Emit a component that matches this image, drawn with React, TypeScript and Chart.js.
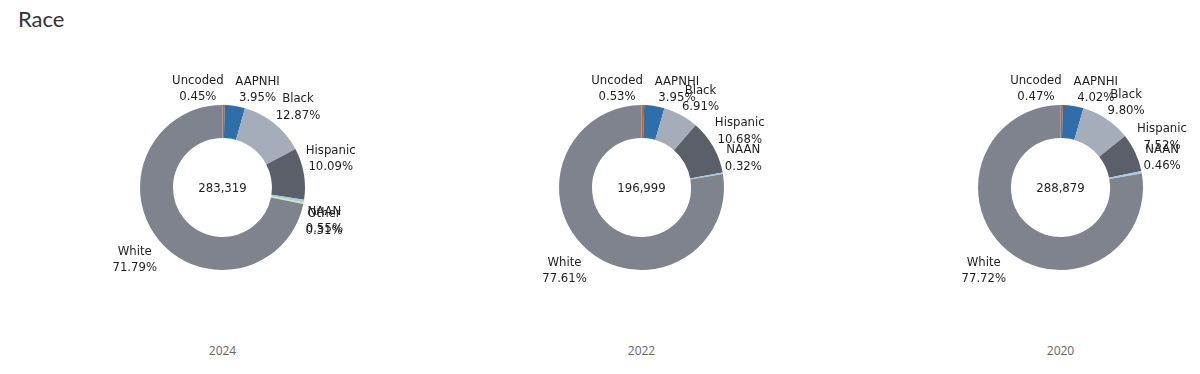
import React, { useEffect, useRef } from 'react';
import { Chart, registerables } from 'chart.js';

Chart.register(...registerables);

const chartTitle = 'Race';
const years = ['2024', '2022', '2020'];
const categories = ['Uncoded', 'AAPNHI', 'Black', 'Hispanic', 'NAAN', 'Other', 'White'];
const pct2024 = [0.45, 3.95, 12.87, 10.09, 0.55, 0.31, 71.79];
const pct2022 = [0.53, 3.95, 6.91, 10.68, 0.32, 0, 77.61];
const pct2020 = [0.47, 4.02, 9.8, 7.52, 0.46, 0, 77.72];
const totals = [283319, 196999, 288879];
const sliceColors = ['#c4622d', '#2f6ea8', '#a6adba', '#5a5f6a', '#a9cbe9', '#d7e8a1', '#7e838e'];

const seriesByYear = [pct2024, pct2022, pct2020];

const LABEL_FONT = '13px "DejaVu Sans Condensed", "DejaVu Sans", sans-serif';
const LINE_H = 16.5;

const outLabels = {
  id: 'outLabels',
  afterDatasetsDraw(chart: any) {
    const ctx = chart.ctx;
    const meta = chart.getDatasetMeta(0);
    const values = chart.data.datasets[0].data as number[];
    const labels = chart.data.labels as string[];
    ctx.save();
    ctx.font = LABEL_FONT;
    ctx.fillStyle = '#1e1e1e';
    ctx.textAlign = 'center';
    ctx.textBaseline = 'middle';
    meta.data.forEach((arc: any, i: number) => {
      const v = values[i];
      if (!v) return;
      const p = arc.getProps(['x', 'y', 'startAngle', 'endAngle', 'outerRadius'], true);
      const mid = (p.startAngle + p.endAngle) / 2;
      const vx = Math.cos(mid);
      const vy = Math.sin(mid);
      const r = p.outerRadius + 2;
      const ax = p.x + vx * r;
      const ay = p.y + vy * r;
      const l1 = labels[i];
      const l2 = v.toFixed(2) + '%';
      const w = Math.max(ctx.measureText(l1).width, ctx.measureText(l2).width);
      const h = LINE_H * 2;
      const sx = vx > 0.05 ? 1 : -1;
      const sy = vy < 0 ? -1 : 1;
      const cx = ax + (sx * w) / 2;
      const cy = ay + (sy * h) / 2 + 2;
      ctx.fillText(l1, cx, cy - LINE_H / 2);
      ctx.fillText(l2, cx, cy + LINE_H / 2);
    });
    ctx.restore();
  },
};

const centerText = {
  id: 'centerText',
  afterDatasetsDraw(chart: any, _args: any, opts: any) {
    const meta = chart.getDatasetMeta(0);
    const arc = meta.data[0];
    if (!arc) return;
    const ctx = chart.ctx;
    ctx.save();
    ctx.font = LABEL_FONT;
    ctx.fillStyle = '#1e1e1e';
    ctx.textAlign = 'center';
    ctx.textBaseline = 'middle';
    ctx.fillText(opts.text, arc.x, arc.y + 1);
    ctx.restore();
  },
};

const PANEL_W = 419;
const CANVAS_H = 255;

function Donut({ idx }: { idx: number }) {
  const ref = useRef<HTMLCanvasElement>(null);
  useEffect(() => {
    if (!ref.current) return;
    const chart = new Chart(ref.current, {
      type: 'doughnut',
      data: {
        labels: categories,
        datasets: [
          {
            data: seriesByYear[idx],
            backgroundColor: sliceColors,
            borderWidth: 0,
          },
        ],
      },
      options: {
        responsive: false,
        animation: false,
        cutout: '60%',
        layout: { padding: { top: 45, bottom: 45, left: 127, right: 127 } },
        plugins: {
          legend: { display: false },
          tooltip: { enabled: false },
          title: { display: false },
          centerText: { text: totals[idx].toLocaleString('en-US') },
        } as any,
      },
      plugins: [outLabels, centerText],
    });
    return () => chart.destroy();
  }, [idx]);
  return (
    <div style={{ position: 'absolute', left: 5 + idx * PANEL_W, top: 0, width: PANEL_W, height: 358 }}>
      <canvas ref={ref} width={PANEL_W} height={CANVAS_H} style={{ position: 'absolute', left: 0, top: 52 }} />
      <div
        style={{
          position: 'absolute',
          left: 0,
          width: PANEL_W,
          top: 334,
          lineHeight: '16px',
          textAlign: 'center',
          font: '12px "Open Sans", sans-serif',
          color: '#666',
        }}
      >
        {years[idx]}
      </div>
    </div>
  );
}

export default function App() {
  return (
    <div style={{ position: 'relative', width: 1184, height: 358, overflow: 'hidden' }}>
      <div
        style={{
          position: 'absolute',
          left: 10,
          top: -3,
          font: '22px Lato, sans-serif',
          color: '#333',
        }}
      >
        {chartTitle}
      </div>
      {years.map((_, i) => (
        <Donut key={i} idx={i} />
      ))}
    </div>
  );
}
